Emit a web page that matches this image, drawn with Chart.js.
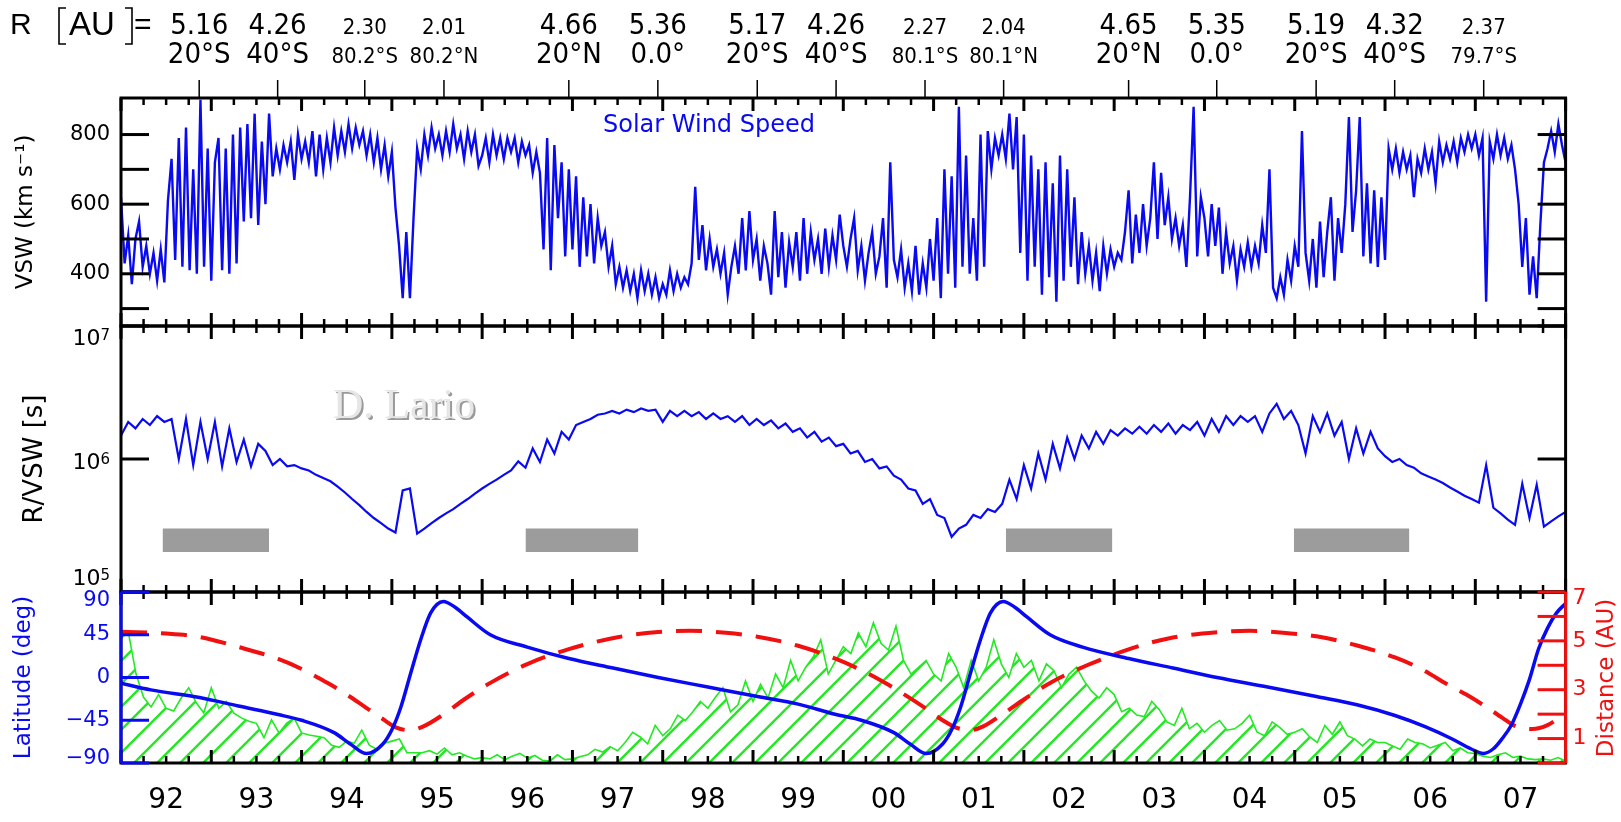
<!DOCTYPE html>
<html>
<head>
<meta charset="utf-8">
<script src="https://cdn.jsdelivr.net/npm/chart.js@4.4.1/dist/chart.umd.min.js"></script>
<style>
  body { margin: 0; background: #fff; }
  canvas { position: absolute; left: 0; top: 0; }
</style>
</head>
<body>
<canvas id="vswChart" width="1621" height="822"></canvas>
<canvas id="ratioChart" width="1621" height="822"></canvas>
<canvas id="orbitChart" width="1621" height="822"></canvas>
<script>
const xMin = 1992, xMax = 2008;
const yearLabels = ['92','93','94','95','96','97','98','99','00','01','02','03','04','05','06','07'];

// solar wind speed, km/s, every 0.04 yr from 1992.0
const vswStart = 1992.0, vswStep = 0.04;
const vswSpeed = [
  620,430,510,370,500,550,420,480,400,460,
  380,470,375,610,730,440,790,420,820,410,
  700,400,900,420,760,380,720,790,410,760,
  400,800,430,820,550,830,560,860,540,780,
  600,860,680,760,700,770,720,780,670,800,
  730,780,720,810,680,800,700,790,720,820,
  740,810,750,830,760,820,770,810,740,800,
  720,790,700,770,680,750,590,480,330,520,
  330,560,760,700,800,740,820,760,800,740,
  810,750,830,760,800,730,810,750,800,710,
  740,790,720,800,740,790,730,790,750,790,
  720,780,740,770,690,750,690,470,790,410,
  770,560,720,450,700,470,680,420,620,450,
  600,430,560,480,520,420,480,370,420,360,
  410,350,400,330,410,350,400,340,390,330,
  370,340,410,350,400,360,390,370,430,650,
  440,540,410,500,420,470,400,460,340,420,
  480,400,560,410,580,440,500,380,480,430,
  340,580,390,520,360,490,420,520,380,560,
  400,520,440,500,400,530,420,510,440,570,
  480,420,500,560,410,480,380,460,520,400,
  450,560,360,720,440,390,470,360,430,350,
  480,340,430,360,500,380,560,330,700,400,
  680,360,880,420,740,400,560,380,800,420,
  810,700,790,740,800,730,860,700,850,460,
  800,380,740,420,700,340,720,390,660,320,
  740,380,700,420,620,370,520,400,480,380,
  460,350,480,400,470,420,460,440,520,640,
  430,570,460,600,480,560,720,500,690,540,
  620,500,560,480,540,420,620,880,450,620,
  560,450,600,480,590,400,520,430,480,380,
  470,420,490,420,480,430,540,460,700,360,
  330,390,340,440,380,480,420,810,460,380,
  500,360,550,390,520,620,380,560,460,600,
  850,520,640,850,450,660,430,640,420,620,
  440,760,700,760,690,750,700,740,620,730,
  690,760,700,750,660,780,720,770,730,780,
  720,790,750,800,760,800,740,790,320,780,
  730,800,740,790,730,770,700,600,420,560,
  340,450,330,540,720,760,810,750,830,770,
  720
];

// R/VSW in seconds, every 0.08 yr from 1992.0
const ratioStart = 1992.0, ratioStep = 0.08;
const ratioSeconds = [
  1.5e6,1.9e6,1.7e6,2.0e6,1.8e6,2.1e6,1.9e6,2.0e6,1.0e6,2.0e6,
  9.0e5,1.9e6,1.0e6,1.9e6,8.8e5,1.7e6,9.5e5,1.4e6,8.8e5,1.3e6,
  1.15e6,9.0e5,1.0e6,8.8e5,9.0e5,8.5e5,8.2e5,7.6e5,7.2e5,6.8e5,
  6.2e5,5.6e5,5.0e5,4.5e5,4.0e5,3.6e5,3.3e5,3.0e5,2.8e5,5.8e5,
  6.0e5,2.75e5,3.0e5,3.3e5,3.6e5,3.9e5,4.2e5,4.6e5,5.0e5,5.5e5,
  6.0e5,6.5e5,7.0e5,7.6e5,8.2e5,9.6e5,8.6e5,1.2e6,9.5e5,1.4e6,
  1.1e6,1.6e6,1.4e6,1.8e6,1.9e6,2.0e6,2.15e6,2.2e6,2.3e6,2.2e6,
  2.35e6,2.25e6,2.4e6,2.3e6,2.35e6,1.9e6,2.3e6,2.1e6,2.3e6,2.1e6,
  2.25e6,2.0e6,2.2e6,2.0e6,2.1e6,1.9e6,2.1e6,1.8e6,2.0e6,1.8e6,
  1.95e6,1.7e6,1.85e6,1.6e6,1.7e6,1.45e6,1.6e6,1.35e6,1.45e6,1.25e6,
  1.3e6,1.1e6,1.15e6,9.5e5,1.0e6,8.5e5,8.8e5,7.5e5,7.0e5,6.0e5,
  5.8e5,4.6e5,5.0e5,3.8e5,3.6e5,2.6e5,3.0e5,3.2e5,3.8e5,3.6e5,
  4.2e5,4.0e5,4.6e5,7.0e5,5.0e5,9.0e5,6.0e5,1.1e6,7.0e5,1.3e6,
  8.5e5,1.45e6,1.0e6,1.5e6,1.2e6,1.6e6,1.3e6,1.65e6,1.5e6,1.7e6,
  1.55e6,1.75e6,1.55e6,1.8e6,1.6e6,1.85e6,1.55e6,1.8e6,1.65e6,1.9e6,
  1.5e6,2.0e6,1.6e6,2.1e6,1.8e6,2.1e6,1.9e6,2.1e6,1.6e6,2.2e6,
  2.6e6,2.0e6,2.3e6,1.8e6,1.1e6,2.1e6,1.6e6,2.2e6,1.5e6,1.9e6,
  1.0e6,1.7e6,1.1e6,1.6e6,1.2e6,1.05e6,9.5e5,1.0e6,9.0e5,8.6e5,
  7.8e5,7.4e5,7.0e5,6.6e5,6.1e5,5.7e5,5.3e5,5.0e5,4.7e5,9.0e5,
  4.3e5,3.9e5,3.5e5,3.2e5,6.5e5,3.6e5,6.4e5,3.1e5,3.4e5,3.7e5,
  4.0e5
];

// grey bars in the R/VSW panel
const grayStart = [1992.46, 1996.48, 2001.80, 2004.99];
const grayEnd = [1993.64, 1997.73, 2002.98, 2006.27];
const grayLow = 2.0e5, grayHigh = 3.0e5;

// monthly sunspot number (green hatched), from 1992.0
const ssnStart = 1992.0, ssnStep = 1 / 12;
const sunspots = [
  184,190,130,96,82,100,80,76,95,110,88,73,
  110,80,90,73,66,61,58,37,63,44,58,66,
  44,41,39,37,26,23,32,29,48,26,20,29,
  32,35,15,15,15,18,13,22,12,15,10,6,
  8,6,12,5,10,14,7,11,4,3,12,5,
  6,9,12,20,16,24,18,30,45,38,28,55,
  40,50,70,62,75,90,80,96,110,75,85,120,
  90,115,95,130,110,150,120,140,155,180,130,150,
  170,160,190,170,205,175,165,200,150,130,140,150,
  130,120,160,140,110,150,120,140,180,145,125,160,
  140,150,120,145,135,110,130,140,120,105,95,110,
  100,75,80,70,68,90,78,60,55,80,50,58,
  45,55,62,48,50,58,70,45,40,60,52,42,
  45,50,38,30,55,42,60,40,35,25,35,30,
  30,25,20,35,30,28,22,26,30,18,22,15,
  14,10,8,12,15,8,10,6,5,6,4,8,
  3
];

// Ulysses heliographic latitude
const latYears = [1992.0,1992.33,1992.87,1993.3,1993.74,1994.0,1994.36,1994.54,1994.72,1994.9,
  1995.0,1995.1,1995.21,1995.32,1995.43,1995.57,1995.7,1995.83,1996.09,1996.5,
  1996.96,1997.45,1997.95,1998.5,1999.05,1999.5,1999.92,2000.2,2000.56,2000.74,
  2000.92,2001.1,2001.2,2001.3,2001.41,2001.52,2001.63,2001.77,2001.9,2002.03,
  2002.29,2002.65,2003.16,2003.65,2004.14,2004.7,2005.24,2005.7,2006.11,2006.45,
  2006.75,2006.95,2007.09,2007.2,2007.3,2007.4,2007.5,2007.6,2007.7,2007.8,
  2007.9,2008.0];
const latDeg = [-6,-13,-21,-30,-39,-45,-58,-70,-80,-70,
  -55,-31,5,40,68,80,74,64,45,32,
  20,10,0,-10,-20,-28,-39,-45,-58,-70,
  -80,-70,-55,-31,5,40,68,80,74,64,
  45,32,20,10,0,-10,-20,-29,-40,-52,
  -65,-75,-80,-75,-64,-50,-28,-2,30,52,
  68,78];

// Ulysses heliocentric distance, AU
const distYears = [1992.0,1992.5,1992.87,1993.3,1993.74,1994.0,1994.3,1994.5,1994.7,1994.9,
  1995.05,1995.2,1995.35,1995.58,1995.8,1996.1,1996.5,1996.96,1997.5,1997.95,
  1998.3,1998.7,1999.05,1999.5,1999.92,2000.2,2000.5,2000.7,2000.9,2001.1,
  2001.25,2001.4,2001.55,2001.78,2002.0,2002.3,2002.7,2003.16,2003.6,2004.14,
  2004.5,2004.9,2005.24,2005.7,2006.11,2006.4,2006.7,2006.9,2007.09,2007.3,
  2007.45,2007.63,2007.8,2008.0];
const distAU = [5.37,5.3,5.16,4.75,4.26,3.85,3.25,2.8,2.30,1.8,
  1.45,1.34,1.5,2.01,2.6,3.3,4.05,4.66,5.15,5.36,
  5.41,5.33,5.17,4.8,4.26,3.8,3.2,2.75,2.27,1.75,
  1.45,1.34,1.5,2.04,2.6,3.3,4.0,4.65,5.1,5.35,
  5.41,5.32,5.19,4.8,4.32,3.85,3.2,2.8,2.37,1.85,
  1.5,1.39,1.55,2.05];

// orbit markers along the top
const passYears = [1992.866,1993.735,1994.70,1995.577,1996.96,1997.946,1999.047,1999.92,
  2000.905,2001.776,2003.16,2004.136,2005.237,2006.107,2007.093];
const passR = ['5.16','4.26','2.30','2.01','4.66','5.36','5.17','4.26','2.27','2.04','4.65','5.35','5.19','4.32','2.37'];
const passLat = ['20°S','40°S','80.2°S','80.2°N','20°N','0.0°','20°S','40°S','80.1°S','80.1°N','20°N','0.0°','20°S','40°S','79.7°S'];
const passPolar = [false,false,true,true,false,false,false,false,true,true,false,false,false,false,true];

const vswTicks = [300, 400, 500, 600, 700, 800];
const vswLabels = [400, 600, 800];
const ratioTicks = [1e5, 1e6, 1e7];
const latTicks = [-90, -45, 0, 45, 90];
const distTicks = [0, 1, 2, 3, 4, 5, 6, 7];
const distLabels = [1, 3, 5, 7];

const plotLeft = 121, plotRight = 1565.6;
const BLUE = '#0a0af2', RED = '#f01010', GREEN = '#22ea22';
Chart.defaults.font.family = "'DejaVu Sans', sans-serif";

function series(start, step, values) {
  return values.map((v, i) => ({ x: start + i * step, y: v }));
}
function pairs(xs, ys) {
  return xs.map((x, i) => ({ x: x, y: ys[i] }));
}
function seg(ctx, x1, y1, x2, y2) {
  ctx.beginPath(); ctx.moveTo(x1, y1); ctx.lineTo(x2, y2); ctx.stroke();
}

// IDL-style frame with inward ticks
const frameTicks = {
  id: 'frameTicks',
  afterDatasetsDraw(chart, args, o) {
    const { ctx, chartArea: a, scales } = chart;
    const xs = scales.x;
    ctx.save();
    ctx.strokeStyle = '#000';
    for (let q = 0; q <= (xMax - xMin) * 4; q++) {
      const px = xs.getPixelForValue(xMin + q / 4);
      const major = q % 4 === 0;
      ctx.lineWidth = major ? 3 : 2.5;
      const len = major ? 13 : 7;
      seg(ctx, px, a.top, px, a.top + len);
      seg(ctx, px, a.bottom, px, a.bottom - len);
    }
    ctx.lineWidth = 3;
    ctx.strokeRect(a.left, a.top, a.right - a.left, a.bottom - a.top);
    (o.sides || []).forEach(s => {
      const sc = scales[s.axis];
      ctx.strokeStyle = s.color;
      ctx.lineWidth = 3;
      if (s.border) {
        const bx = s.side === 'left' ? a.left : a.right;
        seg(ctx, bx, a.top, bx, a.bottom);
      }
      s.values.forEach(v => {
        const py = sc.getPixelForValue(v);
        if (s.side !== 'right') seg(ctx, a.left, py, a.left + 28, py);
        if (s.side !== 'left') seg(ctx, a.right, py, a.right - 28, py);
      });
    });
    ctx.restore();
  }
};

// y labels drawn by hand where IDL nudges them off the tick
const sideLabels = {
  id: 'sideLabels',
  afterDraw(chart, args, o) {
    const { ctx, chartArea: a, scales } = chart;
    ctx.save();
    ctx.textBaseline = 'middle';
    (o.items || []).forEach(it => {
      const sc = scales[it.axis];
      ctx.fillStyle = it.color;
      it.values.forEach((v, i) => {
        const py = sc.getPixelForValue(v) + (it.shift[i] || 0);
        if (it.power) {
          const e = String(Math.round(Math.log10(v)));
          ctx.font = "15px 'DejaVu Sans', sans-serif";
          ctx.textAlign = 'right';
          ctx.textBaseline = 'alphabetic';
          ctx.fillText(e, a.left - 11, py + 1);
          const ew = ctx.measureText(e).width;
          ctx.font = "22px 'DejaVu Sans', sans-serif";
          ctx.textBaseline = 'middle';
          ctx.fillText('10', a.left - 11 - ew, py);
        } else if (it.side === 'right') {
          ctx.font = it.font;
          ctx.textAlign = 'left';
          ctx.fillText(String(v), a.right + 7, py);
        } else {
          ctx.font = it.font;
          ctx.textAlign = 'right';
          ctx.fillText(String(v).replace('-', '−'), a.left - 11, py);
        }
      });
    });
    ctx.restore();
  }
};

const topLabels = {
  id: 'topLabels',
  afterDraw(chart) {
    const { ctx, chartArea: a, scales: { x } } = chart;
    ctx.save();
    ctx.fillStyle = '#000';
    ctx.strokeStyle = '#000';
    ctx.textAlign = 'center';
    ctx.textBaseline = 'alphabetic';
    passYears.forEach((yr, i) => {
      const px = x.getPixelForValue(yr);
      ctx.lineWidth = 1.5;
      seg(ctx, px, 80, px, a.top);
      const f = passPolar[i] ? '22px' : '29px';
      ctx.font = f + " 'Liberation Sans Narrow', 'DejaVu Sans Condensed', sans-serif";
      ctx.fillText(passR[i], px, 34);
      ctx.fillText(passLat[i], px, 63);
    });
    ctx.textAlign = 'left';
    ctx.font = "30px 'Liberation Sans', sans-serif";
    ctx.fillText('R', 10, 34);
    ctx.fillText('=', 134, 34);
    ctx.font = "33px 'Liberation Sans', sans-serif";
    ctx.fillText('AU', 69, 35);
    ctx.lineWidth = 1.6;
    ctx.beginPath();
    ctx.moveTo(66, 8); ctx.lineTo(59, 8); ctx.lineTo(59, 44); ctx.lineTo(66, 44);
    ctx.moveTo(125, 8); ctx.lineTo(132, 8); ctx.lineTo(132, 44); ctx.lineTo(125, 44);
    ctx.stroke();
    ctx.fillStyle = BLUE;
    ctx.font = "24px 'DejaVu Sans', sans-serif";
    ctx.fillText('Solar Wind Speed', 603, 132);
    ctx.restore();
  }
};

const signature = {
  id: 'signature',
  beforeDatasetsDraw(chart) {
    const ctx = chart.ctx;
    ctx.save();
    ctx.font = "42px 'Liberation Serif', 'DejaVu Serif', serif";
    ctx.textBaseline = 'alphabetic';
    ctx.fillStyle = '#9a9a9a';
    ctx.fillText('D. Lario', 335, 420);
    ctx.fillStyle = '#e6e6e6';
    ctx.fillText('D. Lario', 333, 418);
    ctx.restore();
  }
};

const distTitle = {
  id: 'distTitle',
  afterDraw(chart) {
    const ctx = chart.ctx;
    ctx.save();
    ctx.translate(1607, 678);
    ctx.rotate(-Math.PI / 2);
    ctx.fillStyle = RED;
    ctx.font = "23px 'DejaVu Sans', sans-serif";
    ctx.textAlign = 'center';
    ctx.textBaseline = 'middle';
    ctx.fillText('Distance (AU)', 0, 0);
    ctx.restore();
  }
};

const common = {
  responsive: false,
  animation: false,
  devicePixelRatio: 1,
  elements: { point: { radius: 0 }, line: { tension: 0 } }
};
const hiddenX = { type: 'linear', min: xMin, max: xMax, display: false };
const noGrid = { display: false, drawTicks: false };

// panel 1: solar wind speed
new Chart(document.getElementById('vswChart'), {
  type: 'line',
  data: {
    datasets: [{ data: series(vswStart, vswStep, vswSpeed), borderColor: BLUE, borderWidth: 2.4 }]
  },
  options: Object.assign({}, common, {
    layout: { padding: { left: 0, right: 1621 - plotRight, top: 98, bottom: 822 - 326 } },
    plugins: {
      legend: { display: false }, tooltip: { enabled: false },
      frameTicks: { sides: [{ axis: 'y', values: vswTicks, side: 'both', color: '#000' }] }
    },
    scales: {
      x: hiddenX,
      y: {
        min: 250, max: 905,
        grid: noGrid, border: { display: false },
        afterBuildTicks: s => { s.ticks = vswLabels.map(v => ({ value: v })); },
        afterFit: s => { s.width = plotLeft; },
        ticks: { color: '#000', font: { size: 21 }, padding: 11 },
        title: { display: true, text: 'VSW (km s⁻¹)', color: '#000', font: { size: 23 }, padding: { top: 12, bottom: 0 } }
      }
    }
  }),
  plugins: [frameTicks, topLabels]
});

// panel 2: R/VSW
new Chart(document.getElementById('ratioChart'), {
  type: 'line',
  data: {
    datasets: [
      { data: series(ratioStart, ratioStep, ratioSeconds), borderColor: BLUE, borderWidth: 2.2 }
    ].concat(grayStart.map((s, i) => ({
      data: [{ x: s, y: grayHigh }, { x: grayEnd[i], y: grayHigh }],
      borderWidth: 0, borderColor: 'rgba(0,0,0,0)',
      backgroundColor: '#9c9c9c', fill: { value: grayLow }
    })))
  },
  options: Object.assign({}, common, {
    layout: { padding: { left: 0, right: 1621 - plotRight, top: 326, bottom: 822 - 592 } },
    plugins: {
      legend: { display: false }, tooltip: { enabled: false },
      frameTicks: { sides: [{ axis: 'y', values: ratioTicks, side: 'both', color: '#000' }] },
      sideLabels: { items: [{ axis: 'y', values: ratioTicks, shift: [-13, 4, 13], power: true, color: '#000' }] }
    },
    scales: {
      x: hiddenX,
      y: {
        type: 'logarithmic', min: 1e5, max: 1e7,
        grid: noGrid, border: { display: false },
        afterFit: s => { s.width = plotLeft; },
        ticks: { display: false },
        title: { display: true, text: 'R/VSW [s]', color: '#000', font: { size: 26 }, padding: { top: 20, bottom: 0 } }
      }
    }
  }),
  plugins: [signature, frameTicks, sideLabels]
});

// panel 3: latitude, distance, sunspots
function hatch() {
  const c = document.createElement('canvas');
  c.width = 23; c.height = 23;
  const g = c.getContext('2d');
  g.strokeStyle = GREEN;
  g.lineWidth = 2.4;
  g.beginPath();
  g.moveTo(0, 23); g.lineTo(23, 0);
  g.moveTo(-11.5, 11.5); g.lineTo(11.5, -11.5);
  g.moveTo(11.5, 34.5); g.lineTo(34.5, 11.5);
  g.stroke();
  return g.createPattern(c, 'repeat');
}

new Chart(document.getElementById('orbitChart'), {
  type: 'line',
  data: {
    datasets: [
      { data: pairs(latYears, latDeg), yAxisID: 'lat', borderColor: BLUE, borderWidth: 3.5, cubicInterpolationMode: 'monotone' },
      { data: pairs(distYears, distAU), yAxisID: 'dist', borderColor: RED, borderWidth: 4, borderDash: [26, 14], cubicInterpolationMode: 'monotone' },
      { data: series(ssnStart, ssnStep, sunspots), yAxisID: 'ssn', borderColor: GREEN, borderWidth: 1.6, backgroundColor: hatch(), fill: 'start' }
    ]
  },
  options: Object.assign({}, common, {
    layout: { padding: { left: 0, right: 0, top: 592, bottom: 0 } },
    plugins: {
      legend: { display: false }, tooltip: { enabled: false },
      frameTicks: { sides: [
        { axis: 'lat', values: latTicks, side: 'left', color: BLUE, border: true },
        { axis: 'dist', values: distTicks, side: 'right', color: RED, border: true }
      ] },
      sideLabels: { items: [
        { axis: 'lat', values: latTicks, shift: [-4, 0, 0, 0, 9], color: BLUE, font: "21px 'DejaVu Sans', sans-serif" },
        { axis: 'dist', values: distLabels, shift: [0, 0, 0, 6], side: 'right', color: RED, font: "22px 'DejaVu Sans', sans-serif" }
      ] }
    },
    scales: {
      x: {
        type: 'linear', min: xMin, max: xMax, position: 'bottom',
        grid: noGrid, border: { display: false },
        afterBuildTicks: s => { s.ticks = yearLabels.map((l, i) => ({ value: xMin + i + 0.5 })); },
        afterFit: s => { s.height = 822 - 763; },
        ticks: { color: '#000', font: { size: 28 }, padding: 21, autoSkip: false, maxRotation: 0,
          callback: (v, i) => yearLabels[i] }
      },
      lat: {
        position: 'left', min: -90, max: 90,
        grid: noGrid, border: { display: false },
        afterFit: s => { s.width = plotLeft; },
        ticks: { display: false },
        title: { display: true, text: 'Latitude (deg)', color: BLUE, font: { size: 23 }, padding: { top: 10, bottom: 0 } }
      },
      dist: {
        position: 'right', min: 0, max: 7,
        grid: noGrid, border: { display: false },
        afterFit: s => { s.width = 1621 - plotRight; },
        ticks: { display: false }
      },
      ssn: { min: 0, max: 250, display: false }
    }
  }),
  plugins: [frameTicks, sideLabels, distTitle]
});
</script>
</body>
</html>
